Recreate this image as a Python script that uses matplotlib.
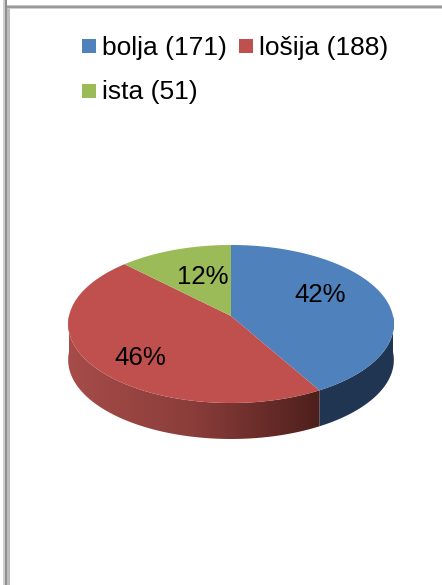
import matplotlib
matplotlib.use("Agg")
import matplotlib.pyplot as plt
from matplotlib.colors import LinearSegmentedColormap
from matplotlib.patches import Polygon, Rectangle
import numpy

labels = ["bolja (171)", "lošija (188)", "ista (51)"]
counts = [171, 188, 51]
percents = ["42%", "46%", "12%"]
colors = ["#4F81BD", "#C0504D", "#9BBB59"]

plt.rcParams['font.family'] = ['Liberation Sans', 'DejaVu Sans']

# pie geometry in pixels, k gives the tilt perspective
cx, cy = 231, 316
rx, ry, k = 162, 78.2, 0.101
depth = 36


def project(theta):
    # theta runs clockwise from the top of the pie
    x, y = numpy.sin(theta), numpy.cos(theta)
    w = 1 + k*y
    return cx + rx*x/w, cy - ry*y/w


fig = plt.figure(figsize=(4.42, 5.85), dpi=100)
ax = fig.add_axes([0, 0, 1, 1])
ax.set_xlim(0, 442)
ax.set_ylim(585, 0)
ax.axis('off')

#--------------- frame
ax.fill_between([3, 5], 0, 585, color='#cfcfcf', lw=0)
ax.fill_between([5, 7], 0, 585, color='#8e8e8e', lw=0)
ax.fill_between([7, 10], 5, 585, color='#bdbdbd', lw=0)
ax.fill_between([7, 442], 5, 6, color='#c4c4c4', lw=0)
ax.fill_between([7, 442], 6, 8, color='#999999', lw=0)
ax.fill_between([9, 442], 8, 9, color='#d0d0d0', lw=0)

#--------------- slices
edges = numpy.cumsum([0] + counts)/sum(counts)*2*numpy.pi

# sides, only the front part of the rim is visible
for i in [0, 1]:
    start = max(edges[i], numpy.pi/2)
    end = min(edges[i+1], 3*numpy.pi/2)
    t = numpy.linspace(start, end, 120)
    xs, ys = project(t)
    side = numpy.column_stack([numpy.r_[xs, xs[::-1]], numpy.r_[ys, ys[::-1] + depth]])
    if i == 0:
        ax.add_patch(Polygon(side, closed=True, fc='#1F3552', ec='none'))
    else:
        patch = Polygon(side, closed=True, fc='none', ec='none')
        ax.add_patch(patch)
        shade = LinearSegmentedColormap.from_list('shade', ['#A64C49', '#8A3D3A', '#4E1F1C'])
        im = ax.imshow(numpy.linspace(0, 1, 256)[None, :], cmap=shade, aspect='auto',
                       extent=[xs.min(), xs.max(), 460, 300], zorder=1)
        im.set_clip_path(patch)
ax.set_xlim(0, 442)
ax.set_ylim(585, 0)

# top faces
for i in range(3):
    t = numpy.linspace(edges[i], edges[i+1], 200)
    xs, ys = project(t)
    ax.fill(numpy.r_[cx, xs], numpy.r_[cy, ys], color=colors[i], lw=0, zorder=2)

#--------------- labels
label_pos = [(320, 294.5), (140.5, 358), (203, 277.5)]
for text, (x, y) in zip(percents, label_pos):
    ax.text(x, y, text, fontsize=18.6, ha='center', va='center', color='black', zorder=3)

#--------------- legend
legend_pos = [(82, 39), (239, 39), (82, 84)]
for lab, col, (x, y) in zip(labels, colors, legend_pos):
    ax.add_patch(Rectangle((x, y), 14, 14, fc=col, ec='none'))
    ax.text(x + 20, y + 8.5, lab, fontsize=19, ha='left', va='center', color='black')

fig.savefig('out.png', dpi=100)
